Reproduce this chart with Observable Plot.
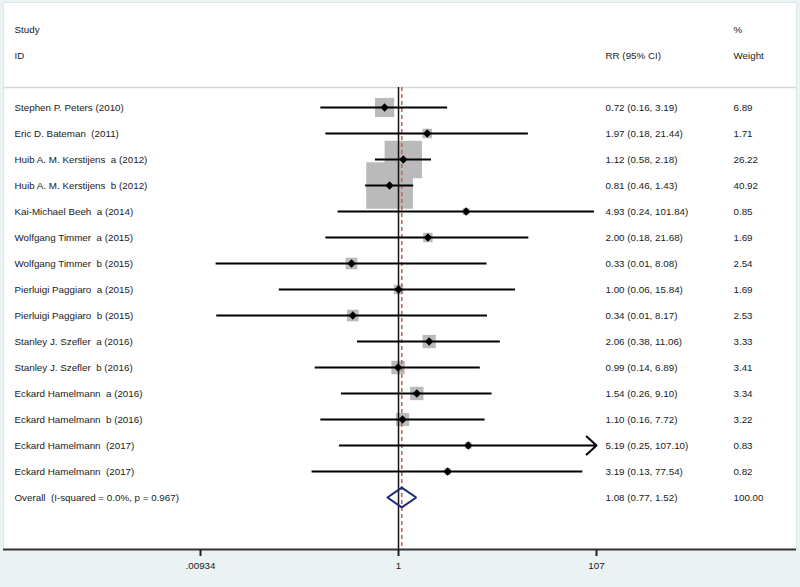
<!DOCTYPE html>
<html>
<head>
<meta charset="utf-8">
<script src="https://cdn.jsdelivr.net/npm/d3@7"></script>
<script src="https://cdn.jsdelivr.net/npm/@observablehq/plot@0.6"></script>
<style>
  html, body { margin: 0; padding: 0; background: #eaf2f4; }
  svg text { white-space: pre; }
</style>
</head>
<body>
<div id="chart"></div>
<script>
const studies = [
  "Stephen P. Peters (2010)",
  "Eric D. Bateman  (2011)",
  "Huib A. M. Kerstijens  a (2012)",
  "Huib A. M. Kerstijens  b (2012)",
  "Kai-Michael Beeh  a (2014)",
  "Wolfgang Timmer  a (2015)",
  "Wolfgang Timmer  b (2015)",
  "Pierluigi Paggiaro  a (2015)",
  "Pierluigi Paggiaro  b (2015)",
  "Stanley J. Szefler  a (2016)",
  "Stanley J. Szefler  b (2016)",
  "Eckard Hamelmann  a (2016)",
  "Eckard Hamelmann  b (2016)",
  "Eckard Hamelmann  (2017)",
  "Eckard Hamelmann  (2017)"
];
const rr     = [0.72, 1.97, 1.12, 0.81, 4.93, 2.00, 0.33, 1.00, 0.34, 2.06, 0.99, 1.54, 1.10, 5.19, 3.19];
const lower  = [0.16, 0.18, 0.58, 0.46, 0.24, 0.18, 0.0135, 0.06, 0.0137, 0.38, 0.14, 0.26, 0.16, 0.25, 0.13];
const upper  = [3.19, 21.44, 2.18, 1.43, 101.84, 21.68, 8.08, 15.84, 8.17, 11.06, 6.89, 9.10, 7.72, 107.10, 77.54];
const weight = [6.89, 1.71, 26.22, 40.92, 0.85, 1.69, 2.54, 1.69, 2.53, 3.33, 3.41, 3.34, 3.22, 0.83, 0.82];
const ciLabels = [
  "0.72 (0.16, 3.19)", "1.97 (0.18, 21.44)", "1.12 (0.58, 2.18)", "0.81 (0.46, 1.43)",
  "4.93 (0.24, 101.84)", "2.00 (0.18, 21.68)", "0.33 (0.01, 8.08)", "1.00 (0.06, 15.84)",
  "0.34 (0.01, 8.17)", "2.06 (0.38, 11.06)", "0.99 (0.14, 6.89)", "1.54 (0.26, 9.10)",
  "1.10 (0.16, 7.72)", "5.19 (0.25, 107.10)", "3.19 (0.13, 77.54)"
];
const weightLabels = ["6.89","1.71","26.22","40.92","0.85","1.69","2.54","1.69","2.53","3.33","3.41","3.34","3.22","0.83","0.82"];

const overallLabel = "Overall  (I-squared = 0.0%, p = 0.967)";
const overallRR = 1.08, overallLower = 0.77, overallUpper = 1.52;
const overallCILabel = "1.08 (0.77, 1.52)";
const overallWeightLabel = "100.00";

const headerLeft = ["Study", "ID"];
const headerCI = "RR (95% CI)";
const headerWeight = ["%", "Weight"];

const ticks = [0.00934, 1, 107];
const tickLabels = [".00934", "1", "107"];

// ---- build tables ----
const rows = studies.map((s, i) => ({
  i, study: s, rr: rr[i], lower: lower[i], upper: upper[i], weight: weight[i],
  ci: ciLabels[i], w: weightLabels[i]
}));
const xmax = ticks[ticks.length - 1];
const nRows = rows.length;            // overall row index
const axisRow = nRows + 2;
const sepRow = -0.77;
const tickLen = 0.27;                 // in row units (~7px)
const textRows = rows.map(d => ({i: d.i, left: d.study, ci: d.ci, w: d.w}))
  .concat([{i: nRows, left: overallLabel, ci: overallCILabel, w: overallWeightLabel}]);
const headerRows = [
  {i: -3, left: headerLeft[0], ci: "", w: headerWeight[0]},
  {i: -2, left: headerLeft[1], ci: headerCI, w: headerWeight[1]}
];
const allText = headerRows.concat(textRows);
const dh = 0.38;
const diamond = [
  {x: overallLower, y: nRows},
  {x: overallRR, y: nRows - dh},
  {x: overallUpper, y: nRows},
  {x: overallRR, y: nRows + dh},
  {x: overallLower, y: nRows}
];
const tickData = ticks.map((t, k) => ({x: t, label: tickLabels[k]}));
const boxK = 7.3;
const font = "'Liberation Sans', Arial, Helvetica, sans-serif";
const txt = "#1a1a1a";

const chart = Plot.plot({
  width: 800,
  height: 587,
  marginTop: 2,
  marginLeft: 3,
  marginRight: 4,
  marginBottom: 38,
  style: {background: "#eaf2f4", fontFamily: font, fontSize: "9.8px", color: "#1a1a1a"},
  x: {type: "log", domain: [ticks[0], xmax], range: [200, 596], axis: null},
  y: {type: "linear", domain: [0, axisRow], range: [107, 549], axis: null},
  r: {type: "identity"},
  marks: [
    Plot.frame({fill: "white", stroke: "#dfe7ea"}),
    Plot.ruleY([sepRow], {stroke: "#d3d7d9", strokeWidth: 1.5}),
    // boxes
    Plot.dot(rows, {x: "rr", y: "i", symbol: "square", fill: "#bababa", stroke: "none",
      r: d => boxK * Math.sqrt(d.weight) / Math.sqrt(Math.PI)}),
    // reference lines
    Plot.ruleX([1], {y1: sepRow, y2: axisRow, stroke: "#111", strokeWidth: 1.5}),
    Plot.ruleX([overallRR], {y1: sepRow, y2: axisRow, stroke: "#d0605a", strokeWidth: 1.6, strokeDasharray: "4,3"}),
    // CIs
    Plot.ruleY(rows.filter(d => d.upper <= xmax), {y: "i", x1: "lower", x2: "upper", stroke: "black", strokeWidth: 2}),
    Plot.arrow(rows.filter(d => d.upper > xmax), {x1: "lower", x2: () => xmax, y1: "i", y2: "i",
      stroke: "black", strokeWidth: 2, headLength: 10, headAngle: 85}),
    // point estimates
    Plot.dot(rows, {x: "rr", y: "i", symbol: "square", rotate: 45, r: 3.3, fill: "black", stroke: "none"}),
    // overall diamond
    Plot.line(diamond, {x: "x", y: "y", stroke: "#1c2b7e", strokeWidth: 2, strokeLinejoin: "miter"}),
    // text columns
    Plot.text(allText, {y: "i", text: "left", frameAnchor: "left", textAnchor: "start", dx: 11, fill: txt, fontSize: 9.8}),
    Plot.text(allText, {y: "i", text: "ci", frameAnchor: "left", textAnchor: "start", dx: 602, fill: txt, fontSize: 9.8}),
    Plot.text(allText, {y: "i", text: "w", frameAnchor: "left", textAnchor: "start", dx: 730, fill: txt, fontSize: 9.8}),
    // axis
    Plot.ruleY([axisRow], {stroke: "#333", strokeWidth: 2}),
    Plot.ruleX(tickData, {x: "x", y1: axisRow, y2: axisRow + tickLen, stroke: "#222", strokeWidth: 2}),
    Plot.text(tickData, {x: "x", text: "label", frameAnchor: "bottom", dy: 19, fill: txt, fontSize: 9.8})
  ]
});
document.getElementById("chart").appendChild(chart);
</script>
</body>
</html>
